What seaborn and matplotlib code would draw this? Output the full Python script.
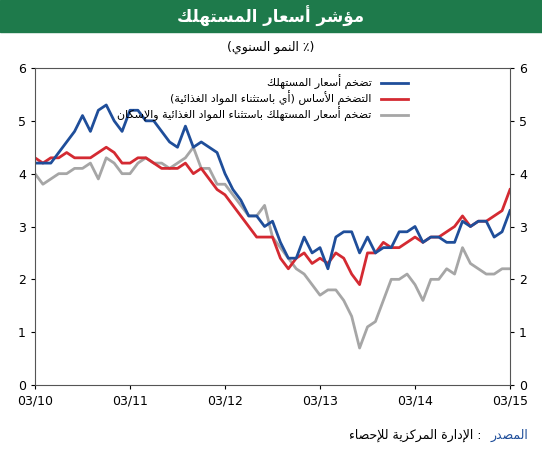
import unicodedata
import numpy as np
import pandas as pd
import seaborn as sns
import matplotlib
matplotlib.use("Agg")
import matplotlib.pyplot as plt

title = "مؤشر أسعار المستهلك"
subtitle = "(٪ النمو السنوي)"
series_names = ["تضخم أسعار المستهلك",
                "التضخم الأساس (أي باستثناء المواد الغذائية)",
                "تضخم أسعار المستهلك باستثناء المواد الغذائية والإسكان"]
source_label = "المصدر"
source_text = ": الإدارة المركزية للإحصاء"
tick_labels = ["03/10", "03/11", "03/12", "03/13", "03/14", "03/15"]

headline = [4.2, 4.2, 4.2, 4.4, 4.6, 4.8, 5.1, 4.8, 5.2, 5.3, 5.0, 4.8, 5.2, 5.2, 5.0, 5.0, 4.8, 4.6, 4.5, 4.9,
            4.5, 4.6, 4.5, 4.4, 4.0, 3.7, 3.5, 3.2, 3.2, 3.0, 3.1, 2.7, 2.4, 2.4, 2.8, 2.5, 2.6, 2.2, 2.8, 2.9,
            2.9, 2.5, 2.8, 2.5, 2.6, 2.6, 2.9, 2.9, 3.0, 2.7, 2.8, 2.8, 2.7, 2.7, 3.1, 3.0, 3.1, 3.1, 2.8, 2.9, 3.3]
core = [4.3, 4.2, 4.3, 4.3, 4.4, 4.3, 4.3, 4.3, 4.4, 4.5, 4.4, 4.2, 4.2, 4.3, 4.3, 4.2, 4.1, 4.1, 4.1, 4.2,
        4.0, 4.1, 3.9, 3.7, 3.6, 3.4, 3.2, 3.0, 2.8, 2.8, 2.8, 2.4, 2.2, 2.4, 2.5, 2.3, 2.4, 2.3, 2.5, 2.4,
        2.1, 1.9, 2.5, 2.5, 2.7, 2.6, 2.6, 2.7, 2.8, 2.7, 2.8, 2.8, 2.9, 3.0, 3.2, 3.0, 3.1, 3.1, 3.2, 3.3, 3.7]
ex_housing = [4.0, 3.8, 3.9, 4.0, 4.0, 4.1, 4.1, 4.2, 3.9, 4.3, 4.2, 4.0, 4.0, 4.2, 4.3, 4.2, 4.2, 4.1, 4.2, 4.3,
              4.5, 4.1, 4.1, 3.8, 3.8, 3.6, 3.4, 3.2, 3.2, 3.4, 2.8, 2.6, 2.4, 2.2, 2.1, 1.9, 1.7, 1.8, 1.8, 1.6,
              1.3, 0.7, 1.1, 1.2, 1.6, 2.0, 2.0, 2.1, 1.9, 1.6, 2.0, 2.0, 2.2, 2.1, 2.6, 2.3, 2.2, 2.1, 2.1, 2.2, 2.2]

NONJOIN = set("اأإآدذرزوؤةىء")
def _form(ch, form):
    try:
        return unicodedata.lookup(unicodedata.name(ch) + " " + form + " FORM")
    except Exception:
        return ch
def shape(text):
    def is_ar(c):
        return '\u0621' <= c <= '\u064A'
    # lam-alef ligatures
    out = []
    chars = list(text)
    i = 0
    res = []
    n = len(chars)
    for i, c in enumerate(chars):
        if not is_ar(c):
            res.append(c); continue
        prev = chars[i-1] if i > 0 else ''
        nxt = chars[i+1] if i < n-1 else ''
        jp = is_ar(prev) and prev not in NONJOIN
        jn = is_ar(nxt) and c not in NONJOIN
        if c in "اأإآ" and prev == 'ل':
            # handled by lam
            continue
        if c == 'ل' and nxt in "اأإآ":
            name = {"ا": "ALEF", "أ": "ALEF WITH HAMZA ABOVE", "إ": "ALEF WITH HAMZA BELOW", "آ": "ALEF WITH MADDA ABOVE"}[nxt]
            lig = unicodedata.lookup("ARABIC LIGATURE LAM WITH " + name + (" FINAL FORM" if jp else " ISOLATED FORM"))
            res.append(lig); continue
        if jp and jn: res.append(_form(c, "MEDIAL"))
        elif jp: res.append(_form(c, "FINAL"))
        elif jn: res.append(_form(c, "INITIAL"))
        else: res.append(_form(c, "ISOLATED"))
    s = "".join(res)[::-1]
    return s.translate(str.maketrans("()", ")("))

plt.rcParams['font.family'] = ['DejaVu Sans']
df = pd.DataFrame({"m": np.arange(len(headline)), "a": headline, "b": core, "c": ex_housing})

fig = plt.figure(figsize=(5.42, 4.5), dpi=100)
fig.patches.append(plt.Rectangle((0, 418/450), 1, 32/450, transform=fig.transFigure, color="#1e7a4b", zorder=0))
fig.text(0.5, 434/450, shape(title), color="white", ha="center", va="center", fontsize=12, fontweight="bold")
fig.text(0.5, 403/450, shape(subtitle), color="black", ha="center", va="center", fontsize=9)

ax = fig.add_axes([35/542, 65/450, 475/542, 317/450])
sns.lineplot(data=df, x="m", y="c", ax=ax, color="#a6a6a6", lw=2, label=shape(series_names[2]))
sns.lineplot(data=df, x="m", y="b", ax=ax, color="#d42a32", lw=2, label=shape(series_names[1]))
sns.lineplot(data=df, x="m", y="a", ax=ax, color="#1f4e9a", lw=2, label=shape(series_names[0]))
ax.set_xlim(0, 60); ax.set_ylim(0, 6)
ax.set_xticks(range(0, 61, 12)); ax.set_xticklabels(tick_labels, fontsize=9)
ax.set_yticks(range(7)); ax.tick_params(labelsize=9, direction="out", length=3)
ax.tick_params(axis="y", labelright=True, right=True)
ax.set_xlabel(""); ax.set_ylabel("")
for s in ax.spines.values():
    s.set_color("#555555")
h, l = ax.get_legend_handles_labels()
ax.legend(h[::-1], l[::-1], loc="upper right", bbox_to_anchor=(0.8, 1.0), markerfirst=False,
          frameon=False, fontsize=8, handlelength=2.5, labelspacing=0.1, borderaxespad=0.2)
fig.text(1 - 14/542, 15/450, shape(source_label), color="#1f4e9a", ha="right", va="center", fontsize=9)
fig.text(1 - 60/542, 15/450, shape(source_text), color="black", ha="right", va="center", fontsize=9)
fig.savefig("out.png", dpi=100)
